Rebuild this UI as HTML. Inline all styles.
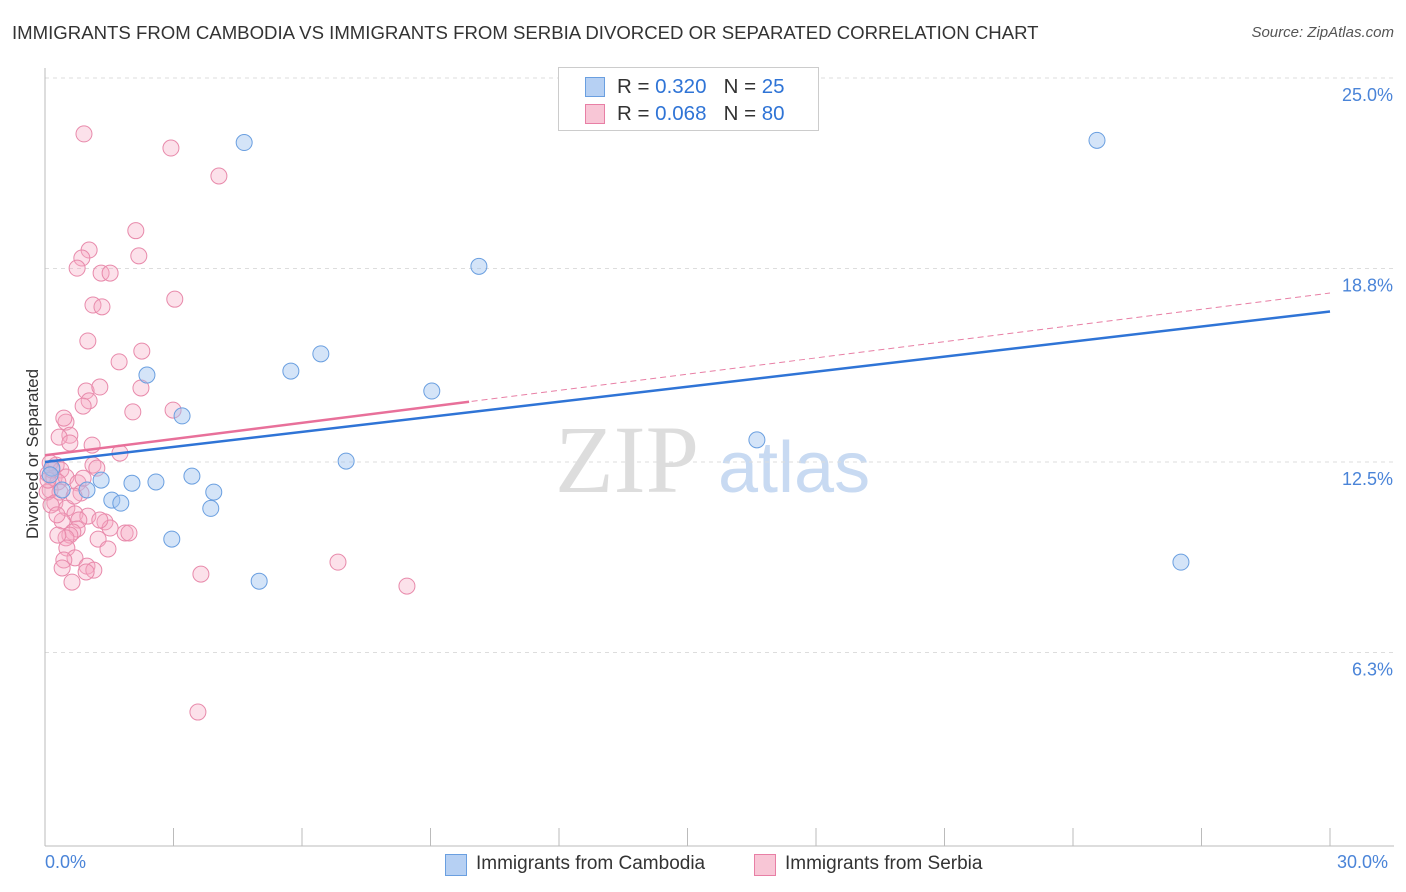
<!DOCTYPE html>
<html><head><meta charset="utf-8"><style>
body{margin:0;background:#fff;font-family:"Liberation Sans",sans-serif;}
#wrap{position:relative;width:1406px;height:892px;overflow:hidden;}
.t{position:absolute;white-space:nowrap;}
</style></head><body>
<div id="wrap">
<div class="t" style="left:12px;top:22px;font-size:18.6px;color:#333;">IMMIGRANTS FROM CAMBODIA VS IMMIGRANTS FROM SERBIA DIVORCED OR SEPARATED CORRELATION CHART</div>
<div class="t" style="right:12px;top:24px;font-size:15px;color:#555;font-style:italic;">Source: ZipAtlas.com</div>
<svg id="svg" width="1406" height="892" style="position:absolute;left:0;top:0">
<text x="555" y="492" font-size="96" font-family="Liberation Serif,serif" fill="#ddd">ZIP</text>
<text x="718" y="492" font-size="72" fill="#c8daf2">atlas</text>
</svg>
<div style="position:absolute;left:558px;top:67px;width:259px;height:62px;border:1px solid #ccc;background:#fff;font-size:20.5px;">
<div style="position:absolute;left:26px;top:9px;width:18px;height:18px;background:#b6d0f3;border:1px solid #6a9fe0;"></div>
<div class="t" style="left:58px;top:7px;color:#333">R = <span style="color:#2f74d6">0.320</span>&nbsp;&nbsp;&nbsp;N = <span style="color:#2f74d6">25</span></div>
<div style="position:absolute;left:26px;top:36px;width:18px;height:18px;background:#f8c6d6;border:1px solid #e87fa5;"></div>
<div class="t" style="left:58px;top:34px;color:#333">R = <span style="color:#2f74d6">0.068</span>&nbsp;&nbsp;&nbsp;N = <span style="color:#2f74d6">80</span></div>
</div>
<div class="t" style="left:-52px;top:444px;font-size:17px;color:#333;transform:rotate(-90deg);">Divorced or Separated</div>
<div class="t" style="left:45px;top:852px;font-size:18px;color:#4a84d8;">0.0%</div>
<div class="t" style="left:1337px;top:852px;font-size:18px;color:#4a84d8;">30.0%</div>
<div style="position:absolute;left:445px;top:854px;width:20px;height:20px;background:#b6d0f3;border:1px solid #6a9fe0;"></div>
<div class="t" style="left:476px;top:853px;font-size:19px;color:#333">Immigrants from Cambodia</div>
<div style="position:absolute;left:754px;top:854px;width:20px;height:20px;background:#f8c6d6;border:1px solid #e87fa5;"></div>
<div class="t" style="left:785px;top:853px;font-size:19px;color:#333">Immigrants from Serbia</div>
</div>
<script>
const yTicks=[25.0,18.8,12.5,6.3];
const yTickLabels=["25.0%","18.8%","12.5%","6.3%"];
const cambodiaX=[4.65,24.56,10.13,6.44,5.74,2.38,9.03,3.2,16.62,7.03,0.16,1.31,3.43,2.03,2.59,0.98,3.94,1.56,1.77,3.87,2.96,5,26.52,0.4,0.12];
const cambodiaY=[22.9,22.97,18.87,16.02,15.46,15.33,14.81,14.0,13.22,12.53,12.3,11.91,12.04,11.81,11.85,11.59,11.52,11.26,11.16,10.99,9.99,8.62,9.24,11.59,12.08];
const serbiaX=[0.91,2.94,4.06,2.12,1.03,0.86,2.19,0.75,1.31,1.52,3.03,1.12,1.33,1,2.26,1.73,0.96,2.24,1.03,0.89,2.05,2.99,0.49,0.58,0.33,0.58,1.1,0.26,1.12,1.21,0.12,0.37,0.07,0.21,0.49,0.30,0.77,0.12,0.35,0.05,0.84,0.23,0.51,0.14,0.7,1.0,0.40,0.79,1.4,1.52,0.75,0.65,0.58,0.49,1.87,1.96,0.30,1.24,0.51,1.47,0.70,0.44,0.40,0.98,1.14,0.96,0.63,3.64,6.84,8.45,3.57,1.28,0.16,0.07,0.28,1.75,0.89,0.68,0.44,1.28];
const serbiaY=[23.18,22.72,21.81,20.03,19.4,19.14,19.21,18.81,18.65,18.65,17.8,17.61,17.55,16.44,16.11,15.76,14.81,14.91,14.49,14.32,14.13,14.19,13.8,13.37,13.31,13.12,13.05,12.4,12.4,12.3,12.47,12.24,12.11,11.98,12.01,11.85,11.82,11.59,11.52,11.52,11.49,11.17,11.0,11.1,10.81,10.74,10.58,10.61,10.55,10.35,10.32,10.22,10.12,10.03,10.19,10.19,10.12,9.99,9.7,9.67,9.38,9.31,9.05,9.11,8.98,8.92,8.59,8.85,9.24,8.46,4.36,10.61,12.24,11.91,10.78,12.79,11.97,11.39,13.93,14.94];
const cambodiaTrend=[12.5,17.4];
const serbiaTrend=[12.72,18.0];
const serbiaSolidEnd=9.9;
const NS="http://www.w3.org/2000/svg";
const svg=document.getElementById('svg');
const L=45,R=1330,B=846;
const xs=v=>L+v/30*(R-L);
const ys=v=>B-v*30.72;
function mk(t,a){const e=document.createElementNS(NS,t);for(const k in a)e.setAttribute(k,a[k]);svg.appendChild(e);return e;}
yTicks.forEach((v,i)=>{
 const g=mk('line',{x1:L,x2:1394,y1:ys(v),y2:ys(v),stroke:'#ddd','stroke-dasharray':'4,4'});
 
 
 const t=mk('text',{x:1393,y:ys(v)+23,'text-anchor':'end','font-size':18,fill:'#4a84d8'});
 t.textContent=yTickLabels[i];
 
 
});
const ax=mk('line',{x1:L,x2:1394,y1:B,y2:B,stroke:'#bbb'});


const ay=mk('line',{x1:L,x2:L,y1:68,y2:B,stroke:'#bbb'});


for(let i=0;i<=10;i++){const x=L+i*(R-L)/10;const tk=mk('line',{x1:x,x2:x,y1:B,y2:B-18,stroke:'#bbb'});
 
 }
function pts(X,Y,fill,stroke,name){X.forEach((x,i)=>{const c=mk('circle',{cx:xs(x),cy:ys(Y[i]),r:8,fill:fill,stroke:stroke,'stroke-width':1});
 
 });}
pts(serbiaX,serbiaY,'rgba(245,170,195,0.35)','#e88aab','serbia-point');
pts(cambodiaX,cambodiaY,'rgba(160,196,240,0.45)','#6a9fe0','cambodia-point');
const sd=mk('line',{x1:xs(0),y1:ys(serbiaTrend[0]),x2:xs(30),y2:ys(serbiaTrend[1]),stroke:'#e87fa5','stroke-width':1,'stroke-dasharray':'6,4'});


const cl=mk('line',{x1:xs(0),y1:ys(cambodiaTrend[0]),x2:xs(30),y2:ys(cambodiaTrend[1]),stroke:'#2f74d6','stroke-width':2.5});


const sEndY=serbiaTrend[0]+(serbiaTrend[1]-serbiaTrend[0])*serbiaSolidEnd/30;
const sl=mk('line',{x1:xs(0),y1:ys(serbiaTrend[0]),x2:xs(serbiaSolidEnd),y2:ys(sEndY),stroke:'#e8709a','stroke-width':2.5});


</script>
</body></html>
